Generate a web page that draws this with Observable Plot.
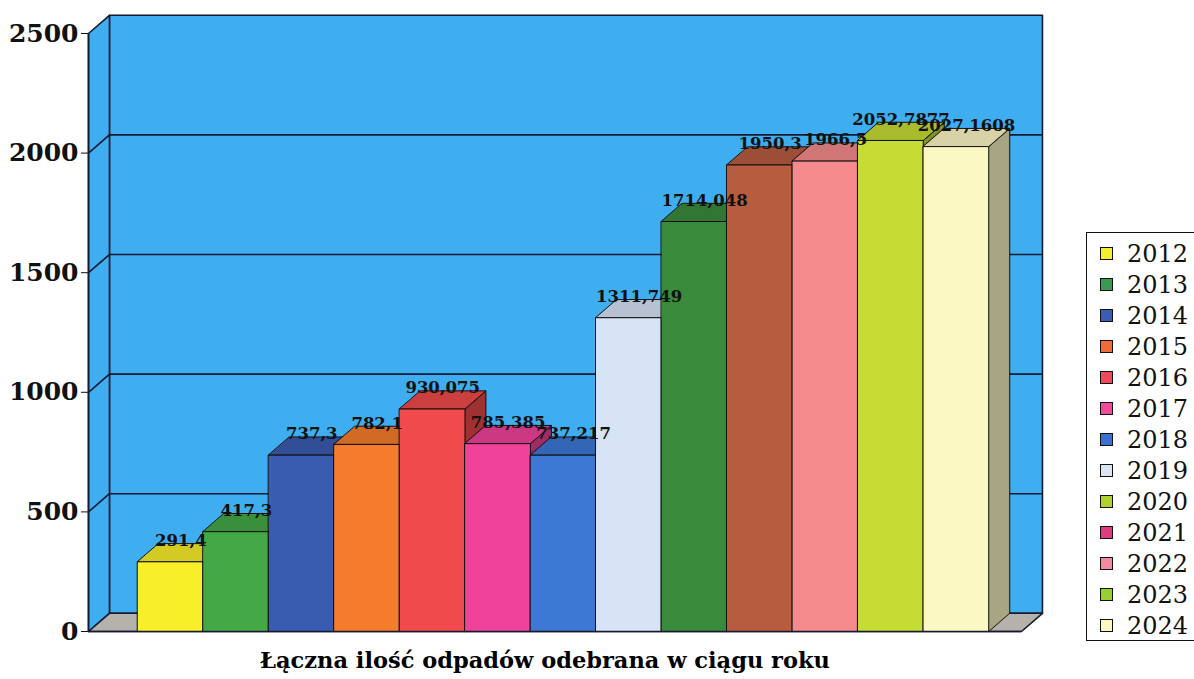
<!DOCTYPE html>
<html>
<head>
<meta charset="utf-8">
<script src="https://cdn.jsdelivr.net/npm/d3@7"></script>
<script src="https://cdn.jsdelivr.net/npm/@observablehq/plot@0.6"></script>
<style>
  html, body { margin: 0; padding: 0; background: #ffffff; }
  #wrap { position: relative; width: 1194px; height: 679px; overflow: hidden; }
  #chart { position: absolute; left: 0; top: 0; }
  #title { position: absolute; left: 0; top: 645px; width: 1090px; text-align: center;
           font-family: "DejaVu Serif", serif; font-weight: bold; font-size: 22.5px; line-height: 30px; color: #000; }
  #legend { position: absolute; left: 1086px; top: 232px; width: 120px; height: 409px;
            border: 1px solid #111; box-sizing: border-box; background: #fff; }
  .item { position: absolute; left: 0; height: 31px; display: flex; align-items: center; }
  .sw { position: absolute; left: 13px; width: 11px; height: 11px; border: 1.5px solid #111; }
  .lt { position: absolute; left: 40px; font-family: "DejaVu Serif", serif; font-size: 24px; color: #111; white-space: nowrap; }
</style>
</head>
<body>
<div id="wrap">
  <div id="chart"></div>
  <div id="title"></div>
  <div id="legend"></div>
</div>
<script>
// ---- data ----
const years = ["2012","2013","2014","2015","2016","2017","2018","2019","2020","2021","2022","2023","2024"];
const values = [291.4, 417.3, 737.3, 782.1, 930.075, 785.385, 737.217, 1311.749, 1714.048, 1950.3, 1966.5, 2052.7877, 2027.1608];
const valueLabels = ["291,4","417,3","737,3","782,1","930,075","785,385","737,217","1311,749","1714,048","1950,3","1966,5","2052,7877","2027,1608"];
const barColors = ["#f8ee2a","#44a844","#3a5cb0","#f47c2c","#f04a4a","#f0429a","#3c78d4","#d6e4f6","#3a8a3c","#b85c40","#f48a8c","#c4dc34","#fcf8c4"];
const legendColors = ["#f2f030","#3a9a50","#3c5cb4","#f06a3a","#f04a5a","#f04a98","#3a70d0","#dae6f4","#b0d030","#e03a80","#f48aa0","#98d030","#fcf8c0"];
const yTicks = [0, 500, 1000, 1500, 2000, 2500];
const gridValues = [500, 1000, 1500, 2000];
const titleText = "Łączna ilość odpadów odebrana w ciągu roku";

// ---- layout constants ----
const W = 1060, H = 645;
const X0 = -0.75, X1 = 13.5;   // front floor extent (bar index units)
const DX = 0.32, DY = 76;      // oblique depth offset in data units
const YMAX = 2500;
const wallBlue = "#3faef0";
const floorGrey = "#b4b2aa";
const edge = "#141a30";

function poly(pts, fill, stroke = "#111", sw = 1) {
  return Plot.line(pts, {x: d => d[0], y: d => d[1], curve: "linear-closed",
    fill, stroke, strokeWidth: sw, strokeLinejoin: "round"});
}

const marks = [];
// back wall
marks.push(poly([[X0+DX, DY],[X1+DX, DY],[X1+DX, YMAX+DY],[X0+DX, YMAX+DY]], wallBlue, edge, 1.6));
// side wall
marks.push(poly([[X0, 0],[X0+DX, DY],[X0+DX, YMAX+DY],[X0, YMAX]], wallBlue, edge, 1.6));
// floor
marks.push(poly([[X0, 0],[X1, 0],[X1+DX, DY],[X0+DX, DY]], floorGrey, edge, 1.6));
// gridlines: back wall and side wall
marks.push(Plot.link(gridValues, {x1: X0+DX, x2: X1+DX, y1: v => v+DY, y2: v => v+DY, stroke: edge, strokeWidth: 1.6}));
marks.push(Plot.link(gridValues, {x1: X0, x2: X0+DX, y1: v => v, y2: v => v+DY, stroke: edge, strokeWidth: 1.6}));

// bars (3D boxes), drawn left to right
values.forEach((v, i) => {
  const c = d3.color(barColors[i]);
  const top = c.darker(0.45).formatHex();
  const side = c.darker(1.15).formatHex();
  const a = i, b = i + 1;
  marks.push(poly([[b, 0],[b+DX, DY],[b+DX, v+DY],[b, v]], side));
  marks.push(poly([[a, v],[b, v],[b+DX, v+DY],[a+DX, v+DY]], top));
  marks.push(poly([[a, 0],[b, 0],[b, v],[a, v]], barColors[i]));
});

// value labels on top
marks.push(Plot.text(values, {
  x: (d, i) => i + 0.5 + DX/2, y: d => d + DY, text: (d, i) => valueLabels[i], dy: -3,
  fontSize: 16.5, fontWeight: "bold", fontFamily: "DejaVu Serif", fill: "#111",
  textAnchor: "middle", lineAnchor: "middle"
}));

// axis line and ticks
marks.push(Plot.ruleX([X0], {y1: 0, y2: YMAX, stroke: edge, strokeWidth: 1.6}));
marks.push(Plot.ruleY([0], {x1: X0, x2: X1, stroke: edge, strokeWidth: 1.6}));
marks.push(Plot.axisY(yTicks, {
  tickSize: 7, tickPadding: 3, label: null, tickFormat: d => String(d),
  fontSize: 25, fontWeight: "bold", fontFamily: "DejaVu Serif", fill: "#111", stroke: "#111"
}));

const chart = Plot.plot({
  width: W, height: H,
  marginLeft: 88, marginRight: W - 1021, marginTop: 33, marginBottom: H - 631,
  x: {domain: [X0, X1], axis: null},
  y: {domain: [0, YMAX], axis: null},
  style: {background: "transparent", overflow: "visible"},
  marks
});
document.getElementById("chart").appendChild(chart);

// title
document.getElementById("title").textContent = titleText;

// legend
const leg = document.getElementById("legend");
years.forEach((y, i) => {
  const it = document.createElement("div");
  it.className = "item";
  it.style.top = (5 + i * 31) + "px";
  const sw = document.createElement("div");
  sw.className = "sw";
  sw.style.background = legendColors[i];
  const t = document.createElement("div");
  t.className = "lt";
  t.textContent = y;
  it.appendChild(sw); it.appendChild(t);
  leg.appendChild(it);
});
</script>
</body>
</html>
